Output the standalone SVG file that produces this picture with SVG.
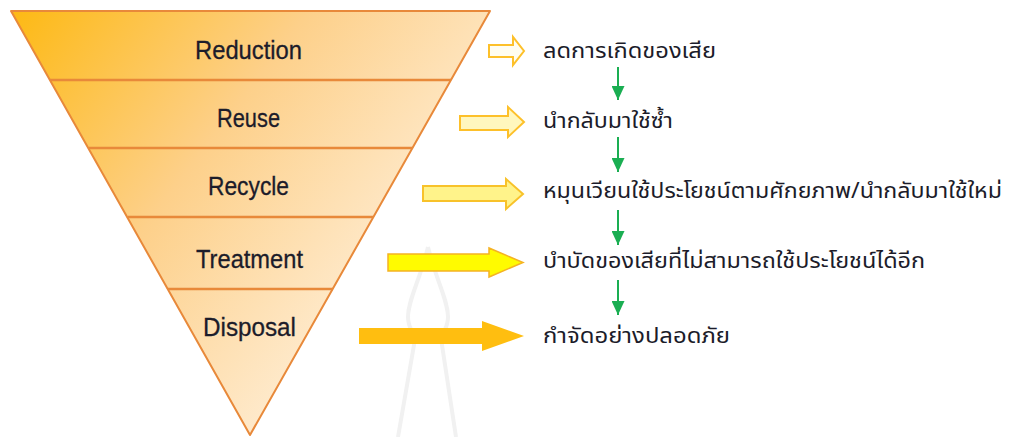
<svg xmlns="http://www.w3.org/2000/svg" width="1014" height="437" viewBox="0 0 1014 437">
<defs>
<linearGradient id="fun" x1="11" y1="11" x2="430" y2="330" gradientUnits="userSpaceOnUse">
<stop offset="0" stop-color="#FDB913"/>
<stop offset="0.45" stop-color="#FDD08A"/>
<stop offset="1" stop-color="#FFF3E3"/>
</linearGradient>
<marker id="gh" viewBox="0 0 14 13" refX="14" refY="6.5" markerWidth="14" markerHeight="13" markerUnits="userSpaceOnUse" orient="auto">
<path d="M0,0 L14,6.5 L0,13 Z" fill="#1AAE52"/>
</marker>
</defs>
<style>
.lvl{fill:url(#fun);stroke:#E8893A;stroke-width:2;stroke-linejoin:round}
.div{stroke:#E8893A;stroke-width:2.5}
.en{font-family:"Liberation Sans",Arial,sans-serif;font-size:26px;fill:#1C1C2A;stroke:#1C1C2A;stroke-width:0.3;text-anchor:middle}
.th{font-family:"Noto Sans Thai","Noto Sans","Liberation Sans",sans-serif;font-size:21px;fill:#1C1C2A}
.g{stroke:#1AAE52;stroke-width:2;fill:none}
.wm{fill:none;stroke:#F1F1F1;stroke-width:4}
</style>
<rect width="1014" height="437" fill="#FFFFFF"/>
<g id="watermark">
<path class="wm" d="M428,247 C420,280 408,300 408,317 C408,330 416,333 414,345 L398,437"/>
<path class="wm" d="M428,247 C436,280 448,300 448,317 C448,330 440,333 442,345 L456,437"/>
</g>
<g id="funnel">
<path class="lvl" d="M11,11 L490,11 L250,435 Z"/>
<line class="div" x1="50" y1="80" x2="451" y2="80"/>
<line class="div" x1="89" y1="148" x2="412" y2="148"/>
<line class="div" x1="128" y1="217" x2="373" y2="217"/>
<line class="div" x1="168" y1="289" x2="333" y2="289"/>
</g>
<g id="reduction"><text class="en" x="248.5" y="59" textLength="107" lengthAdjust="spacingAndGlyphs">Reduction</text></g>
<g id="reuse"><text class="en" x="248.5" y="127" textLength="63" lengthAdjust="spacingAndGlyphs">Reuse</text></g>
<g id="recycle"><text class="en" x="248.5" y="195" textLength="81" lengthAdjust="spacingAndGlyphs">Recycle</text></g>
<g id="treatment"><text class="en" x="249.5" y="268" textLength="107" lengthAdjust="spacingAndGlyphs">Treatment</text></g>
<g id="disposal"><text class="en" x="249.5" y="336" textLength="93" lengthAdjust="spacingAndGlyphs">Disposal</text></g>
<g id="arrows">
<path d="M489,45 L513,45 L513,37 L524,51 L513,65 L513,57 L489,57 Z" fill="#FFFDF0" stroke="#FDC02A" stroke-width="2"/>
<path d="M460,116 L508,116 L508,107 L524,122 L508,137 L508,130 L460,130 Z" fill="#FFF7BE" stroke="#FDC02A" stroke-width="2"/>
<path d="M423,186 L506,186 L506,179 L523,194 L506,209 L506,201 L423,201 Z" fill="#FFF38A" stroke="#F8C22A" stroke-width="2"/>
<path d="M388,254 L489,254 L489,248 L523,262.5 L489,277 L489,271 L388,271 Z" fill="#FFFB00" stroke="#F5B323" stroke-width="1.5"/>
<path d="M359,328 L482,328 L482,321 L524,336 L482,351 L482,344 L359,344 Z" fill="#FFBE10"/>
</g>
<g id="t1"><text class="th" x="543" y="58" textLength="173" lengthAdjust="spacingAndGlyphs">ลดการเกิดของเสีย</text></g>
<g id="t2"><text class="th" x="543" y="128" textLength="130" lengthAdjust="spacingAndGlyphs">นำกลับมาใช้ซ้ำ</text></g>
<g id="t3"><text class="th" x="543" y="198" textLength="459" lengthAdjust="spacingAndGlyphs">หมุนเวียนใช้ประโยชน์ตามศักยภาพ/นำกลับมาใช้ใหม่</text></g>
<g id="t4"><text class="th" x="543" y="268" textLength="382" lengthAdjust="spacingAndGlyphs">บำบัดของเสียที่ไม่สามารถใช้ประโยชน์ได้อีก</text></g>
<g id="t5"><text class="th" x="543" y="343" textLength="187" lengthAdjust="spacingAndGlyphs">กำจัดอย่างปลอดภัย</text></g>
<g id="connectors">
<line class="g" x1="618" y1="67" x2="618" y2="100" marker-end="url(#gh)"/>
<line class="g" x1="618" y1="137" x2="618" y2="172" marker-end="url(#gh)"/>
<line class="g" x1="618" y1="210" x2="618" y2="245" marker-end="url(#gh)"/>
<line class="g" x1="618" y1="280" x2="618" y2="315" marker-end="url(#gh)"/>
</g>
</svg>
